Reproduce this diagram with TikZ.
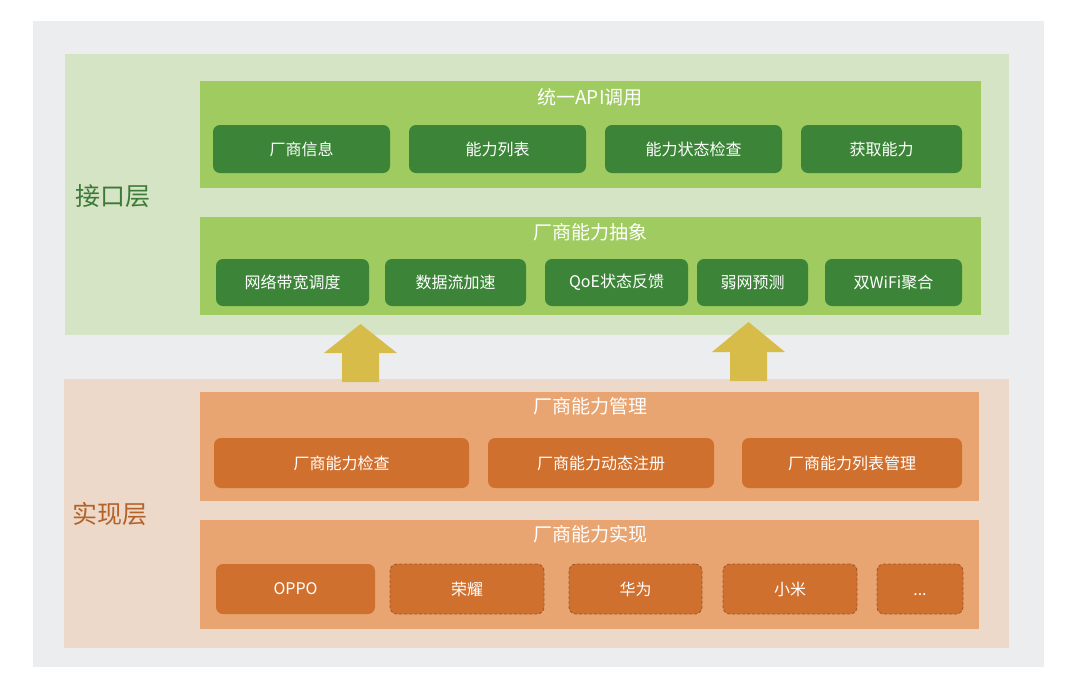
\documentclass[tikz,border=0pt]{standalone}
\usepackage{fontspec}
\setmainfont{Noto Sans CJK SC}
\usetikzlibrary{positioning}
\definecolor{bgGray}{HTML}{ECEDEF}
\definecolor{layerGreen}{HTML}{D5E4C5}
\definecolor{panelGreen}{HTML}{9FCB61}
\definecolor{btnGreen}{HTML}{3C8538}
\definecolor{textGreen}{HTML}{3C7A36}
\definecolor{layerOrange}{HTML}{ECD9C9}
\definecolor{panelOrange}{HTML}{E8A571}
\definecolor{btnOrange}{HTML}{D0702E}
\definecolor{dashOrange}{HTML}{A35A2A}
\definecolor{textOrange}{HTML}{B4622A}
\definecolor{arrowGold}{HTML}{D8BC4A}

\begin{document}
\begin{tikzpicture}[x=1pt, y=-1pt]
%% one unit is one pixel of the 1080x681 figure, y grows downwards
\tikzstyle{area}=[inner sep=0pt, outer sep=0pt, draw=none]
\tikzstyle{title}=[text=white, font=\fontsize{19}{22}\selectfont]
\tikzstyle{layerlabel}=[font=\fontsize{25}{28}\selectfont]
\tikzstyle{btn}=[area, rounded corners=7pt, text=white, font=\fontsize{16}{19}\selectfont]
\tikzstyle{greenbtn}=[btn, fill=btnGreen]
\tikzstyle{orangebtn}=[btn, fill=btnOrange]
\tikzstyle{plannedbtn}=[orangebtn, draw=dashOrange, line width=0.9pt, dash pattern=on 3pt off 2pt]
\tikzstyle{upArrow}=[fill=arrowGold]
\useasboundingbox[fill=white] (0,0) rectangle (1080,681);
%% background and layers
\node[area, fill=bgGray, minimum width=1011, minimum height=646] at (538.5,344) (bg) {};
\node[area, fill=layerGreen, minimum width=944, minimum height=281] at (537,194.5) (iface) {};
\node[area, fill=layerOrange, minimum width=945, minimum height=269] at (536.5,513.5) (impl) {};
\node[layerlabel, text=textGreen] at (113,196) (ifaceLabel) {接口层};
\node[layerlabel, text=textOrange] at (110,514) (implLabel) {实现层};
%% interface layer: unified API
\node[area, fill=panelGreen, minimum width=781, minimum height=107] at (590.5,134.5) (api) {};
\node[title] at (590,97) (apiTitle) {统一API调用};
\node[greenbtn, minimum width=177, minimum height=48] at (301.5,149) (vendorInfo) {厂商信息};
\node[greenbtn, minimum width=177, minimum height=48] at (497.5,149) (capList) {能力列表};
\node[greenbtn, minimum width=177, minimum height=48] at (693.5,149) (capCheck) {能力状态检查};
\node[greenbtn, minimum width=161, minimum height=48] at (881.5,149) (capGet) {获取能力};
%% interface layer: vendor capability abstraction
\node[area, fill=panelGreen, minimum width=781, minimum height=98] at (590.5,266) (abstr) {};
\node[title] at (590,232) (abstrTitle) {厂商能力抽象};
\node[greenbtn, minimum width=153, minimum height=47] at (292.5,282.5) (bandwidth) {网络带宽调度};
\node[greenbtn, minimum width=141, minimum height=47] at (455.5,282.5) (flowAccel) {数据流加速};
\node[greenbtn, minimum width=143, minimum height=47] at (616.5,282.5) (qoe) {QoE状态反馈};
\node[greenbtn, minimum width=111, minimum height=47] at (752.5,282.5) (weakNet) {弱网预测};
\node[greenbtn, minimum width=137, minimum height=47] at (893.5,282.5) (dualWifi) {双WiFi聚合};
%% arrows from implementation up to interface
\fill[upArrow] (342,382) -- (342,353) -- (324,353) -- (360.5,324) -- (397,353) -- (379,353) -- (379,382) -- cycle;
\fill[upArrow] (730,381) -- (730,352) -- (712,352) -- (748.5,322) -- (785,352) -- (767,352) -- (767,381) -- cycle;
%% implementation layer: capability management
\node[area, fill=panelOrange, minimum width=779, minimum height=109] at (589.5,446.5) (mgmt) {};
\node[title] at (590,406) (mgmtTitle) {厂商能力管理};
\node[orangebtn, minimum width=255, minimum height=50] at (341.5,463) (mgmtCheck) {厂商能力检查};
\node[orangebtn, minimum width=226, minimum height=50] at (601,463) (mgmtReg) {厂商能力动态注册};
\node[orangebtn, minimum width=220, minimum height=50] at (852,463) (mgmtList) {厂商能力列表管理};
%% implementation layer: vendor implementations
\node[area, fill=panelOrange, minimum width=779, minimum height=109] at (589.5,574.5) (vendors) {};
\node[title] at (590,534) (vendorsTitle) {厂商能力实现};
\node[orangebtn, minimum width=159, minimum height=50] at (295.5,589) (oppo) {OPPO};
\node[plannedbtn, minimum width=154, minimum height=50] at (467,589) (honor) {荣耀};
\node[plannedbtn, minimum width=133, minimum height=50] at (635.5,589) (huawei) {华为};
\node[plannedbtn, minimum width=134, minimum height=50] at (790,589) (xiaomi) {小米};
\node[plannedbtn, minimum width=86, minimum height=50] at (920,589) (others) {\vphantom{荣}...};
\end{tikzpicture}
\end{document}
